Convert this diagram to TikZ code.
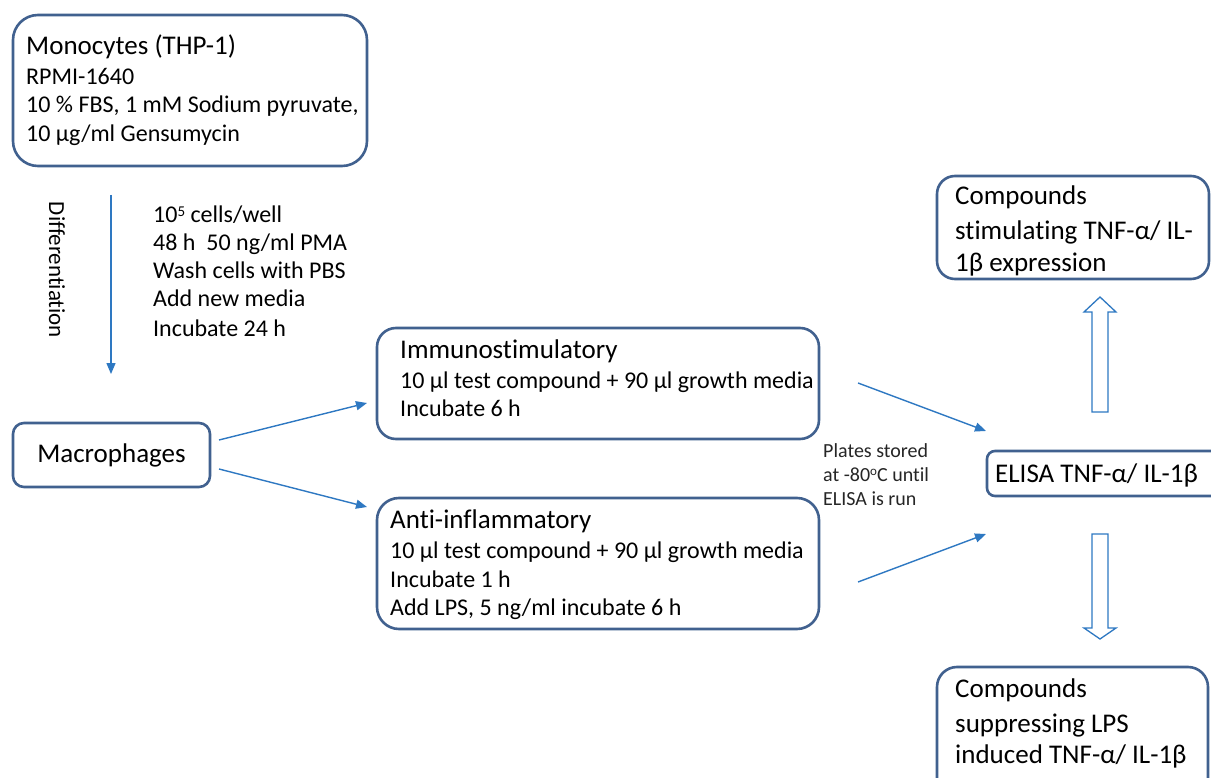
\documentclass[tikz,border=0pt]{standalone}
\usepackage{fontspec}
\setmainfont[Ligatures={NoCommon,NoRare,NoContextual}]{Carlito}
\usetikzlibrary{arrows.meta}
\definecolor{boxblue}{HTML}{41618F}
\definecolor{arrblue}{HTML}{2E78C2}
\begin{document}
\begin{tikzpicture}[x=1pt,y=-1pt,
  box/.style={draw=boxblue, line width=2.6pt, inner sep=0pt, fill=white},
  ttl/.style={anchor=base west, inner sep=0pt, font=\fontsize{27}{32}\selectfont},
  bdy/.style={anchor=base west, inner sep=0pt, font=\fontsize{24}{29}\selectfont},
  sml/.style={anchor=base west, inner sep=0pt, font=\fontsize{20}{24}\selectfont, text=black!85},
  conn/.style={draw=arrblue, line width=1.4pt, -{Triangle[length=11pt,width=9pt]}},
  hollow/.style={draw=arrblue, line width=1.3pt, fill=white, line join=miter}]
\useasboundingbox (0,0) rectangle (1211,778);
\clip (0,0) rectangle (1211,778);
\fill[white] (0,0) rectangle (1211,778);
% boxes
\node[box, rounded corners=25pt, minimum width=354pt, minimum height=151pt] (mono) at (190,90.5) {};
\node[box, rounded corners=11pt, minimum width=197pt, minimum height=64pt] (mac) at (111.5,455) {};
\node[box, rounded corners=19pt, minimum width=442pt, minimum height=111pt] (imm) at (598,383.5) {};
\node[box, rounded corners=22pt, minimum width=442pt, minimum height=131pt] (anti) at (598,563.5) {};
\node[box, rounded corners=18pt, minimum width=272pt, minimum height=103pt] (stim) at (1073,227.5) {};
\node[box, rounded corners=8pt, minimum width=252pt, minimum height=45pt] (elisa) at (1113,473.5) {};
\node[box, rounded corners=20pt, minimum width=271pt, minimum height=132pt] (supp) at (1072.5,733) {};
% texts
\node[ttl] (mo1) at (26,55) {Monocytes (THP-1)};
\node[bdy] (mo2) at (26,85) {RPMI-1640};
\node[bdy] (mo3) at (26,113) {10 \% FBS, 1 mM Sodium pyruvate,};
\node[bdy] (mo4) at (26,142) {10 µg/ml Gensumycin};
\node[inner sep=0pt, rotate=-90, font=\fontsize{23}{27}\selectfont] (diff) at (57,270) {Differentiation};
\node[bdy] (d1) at (153,223) {10\raisebox{0.55ex}{\fontsize{15}{15}\selectfont 5} cells/well};
\node[bdy] (d2) at (153,251) {48 h\ \ 50 ng/ml PMA};
\node[bdy] (d3) at (153,279) {Wash cells with PBS};
\node[bdy] (d4) at (153,307) {Add new media};
\node[bdy] (d5) at (153,336) {Incubate 24 h};
\node[inner sep=0pt, anchor=base, font=\fontsize{27}{32}\selectfont] (mact) at (111.5,462) {Macrophages};
\node[ttl] (im1) at (400,358) {Immunostimulatory};
\node[bdy] (im2) at (400,388) {10 µl test compound + 90 µl growth media};
\node[bdy] (im3) at (400,416) {Incubate 6 h};
\node[ttl] (an1) at (390,528) {Anti-inflammatory};
\node[bdy] (an2) at (390,558) {10 µl test compound + 90 µl growth media};
\node[bdy] (an3) at (390,587) {Incubate 1 h};
\node[bdy] (an4) at (390,615) {Add LPS, 5 ng/ml incubate 6 h};
\node[sml] (pl1) at (823,457) {Plates stored};
\node[sml] (pl2) at (823,481) {at -80\raisebox{0.55ex}{\fontsize{13}{13}\selectfont o}C until};
\node[sml] (pl3) at (823,505) {ELISA is run};
\node[ttl] (st1) at (955,205) {Compounds};
\node[ttl] (st2) at (955,240) {stimulating TNF-α/ IL-};
\node[ttl] (st3) at (955,272) {1β expression};
\node[ttl] (el1) at (995,482) {ELISA TNF-α/ IL-1β};
\node[ttl] (su1) at (955,697) {Compounds};
\node[ttl] (su2) at (955,732) {suppressing LPS};
\node[ttl] (su3) at (955,763) {induced TNF-α/ IL-1β};
% connector end points
\coordinate (v1) at (111,195);
\coordinate (v2) at (111,374);
\coordinate (m1) at (219,440);
\coordinate (m2) at (367,403);
\coordinate (m3) at (219,469);
\coordinate (m4) at (367,507);
\coordinate (i1) at (858,383);
\coordinate (e1) at (986,431);
\coordinate (a1) at (858,582);
\coordinate (e2) at (986,534);
\draw[conn] (v1) -- (v2);
\draw[conn] (m1) -- (m2);
\draw[conn] (m3) -- (m4);
\draw[conn] (i1) -- (e1);
\draw[conn] (a1) -- (e2);
% hollow block arrows
\draw[hollow] (1092,412) -- (1092,312) -- (1084,312) -- (1100,297) -- (1116,312) -- (1108,312) -- (1108,412) -- cycle;
\draw[hollow] (1092,534) -- (1092,628) -- (1084,628) -- (1100,639) -- (1116,628) -- (1108,628) -- (1108,534) -- cycle;
\end{tikzpicture}
\end{document}
